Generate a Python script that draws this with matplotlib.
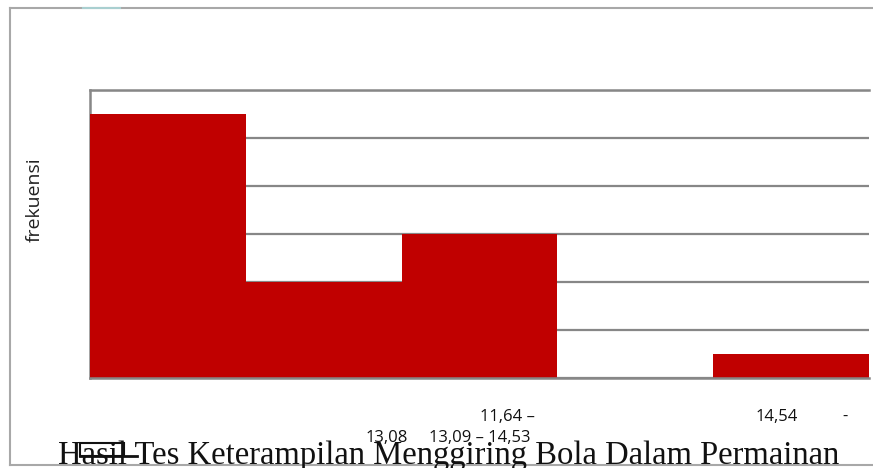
import numpy as np
import matplotlib.pyplot as plt
from matplotlib.lines import Line2D
from matplotlib.patches import Rectangle

# class intervals (only some labels survive in the picture) and frequencies
kelas = ['k1', 'k2', 'k3', 'k4', 'k5']
frekuensi = [11, 4, 6, 0, 1]
yticks = [0, 2, 4, 6, 8, 10, 12]

W, H = 873, 468
fig = plt.figure(figsize=(W/100, H/100), dpi=100, facecolor='w')

def px(x, y):
    # pixel coords (top-left origin) -> figure fraction
    return x/W, 1 - y/H

ax = fig.add_axes([90/W, 1 - 378/H, 779/W, 288/H])
x = np.arange(len(kelas))
ax.bar(x, frekuensi, width=1.0, color='#C00000', edgecolor='none', zorder=3)
ax.set_xlim(-0.5, len(kelas) - 0.5)
ax.set_ylim(0, 12)
ax.set_yticks(yticks)
ax.yaxis.grid(True, color='#878787', lw=1.6, zorder=0)
ax.tick_params(left=False, bottom=False, labelleft=False, labelbottom=False)
ax.spines['right'].set_visible(False)
for s in ['left', 'bottom', 'top']:
    ax.spines[s].set_color('#878787')
    ax.spines[s].set_linewidth(1.8)
ax.spines['bottom'].set_zorder(4)

# y label
fig.text(*px(35, 200), 'frekuensi', rotation=90, ha='center', va='center',
         fontsize=14, family='Open Sans', color='#222222')

# leftover category labels
lab = dict(fontsize=12, family='Open Sans', color='#111111', va='center')
fig.text(*px(507, 417), '11,64 –', ha='center', **lab)
fig.text(*px(387, 438), '13,08', ha='center', **lab)
fig.text(*px(480, 438), '13,09 – 14,53', ha='center', **lab)
fig.text(*px(777, 417), '14,54', ha='center', **lab)
fig.text(*px(845, 417), '-', ha='center', **lab)

# title
fig.text(*px(449, 464), 'Hasil Tes Keterampilan Menggiring Bola Dalam Permainan',
         ha='center', va='baseline', fontsize=23.5, family='Liberation Serif',
         color='#111111')

# odd box + line over "asil"
x0, y0 = px(80, 456)
x1, y1 = px(124, 443)
fig.add_artist(Rectangle((x0, y0), x1 - x0, y1 - y0, fill=False,
                         edgecolor='#111111', lw=1.5, transform=fig.transFigure))
fig.add_artist(Line2D([80/W, 137/W], [1 - 456/H, 1 - 456/H], color='#111111',
                      lw=2, transform=fig.transFigure))

# outer frame
fc = '#a8a8a8'
fig.add_artist(Line2D([10/W, 10/W], [1 - 8/H, 1 - 465/H], color=fc, lw=1.5,
                      transform=fig.transFigure))
fig.add_artist(Line2D([10/W, 1], [1 - 8/H, 1 - 8/H], color=fc, lw=1.5,
                      transform=fig.transFigure))
fig.add_artist(Line2D([83/W, 120/W], [1 - 8/H, 1 - 8/H], color='#a9cfd0', lw=1.5,
                      transform=fig.transFigure))
fig.add_artist(Line2D([10/W, 1], [1 - 465/H, 1 - 465/H], color=fc, lw=1.5,
                      transform=fig.transFigure))

fig.savefig('out.png', dpi=100, facecolor='w')
